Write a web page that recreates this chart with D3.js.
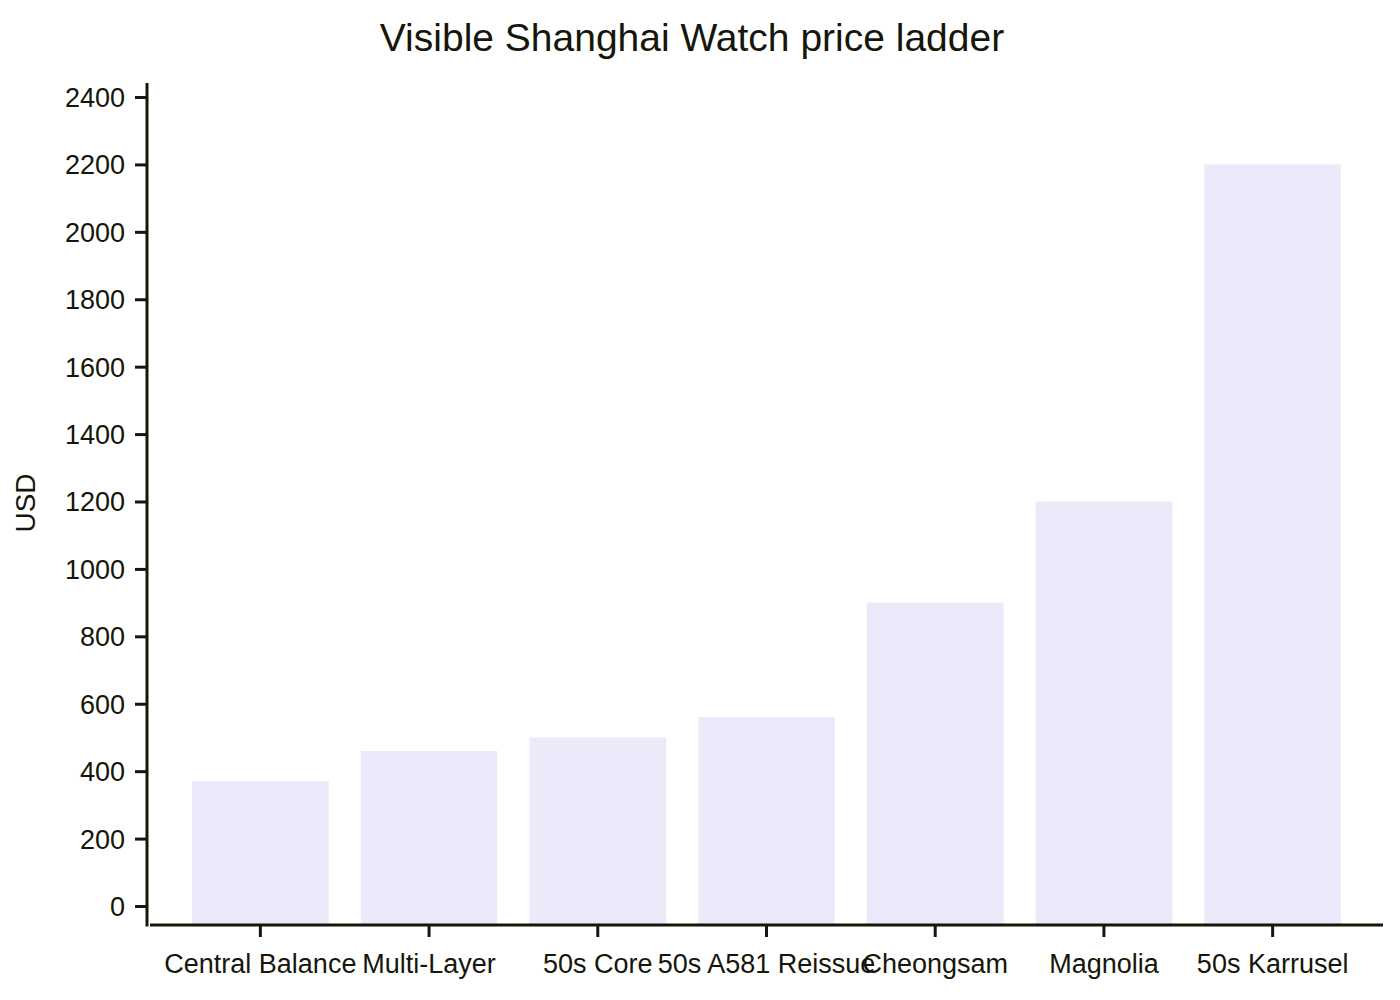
<!DOCTYPE html>
<html><head><meta charset="utf-8">
<script src="https://cdn.jsdelivr.net/npm/d3@7"></script>
<style>body{margin:0;background:#fff;} svg{display:block;font-family:"Liberation Sans",Arial,sans-serif;}</style>
</head><body>
<svg id="c" width="1400" height="1000"></svg>
<script>
const categories = ["Central Balance","Multi-Layer","50s Core","50s A581 Reissue","Cheongsam","Magnolia","50s Karrusel"];
const prices = [370, 460, 500, 560, 900, 1200, 2200];
const yTicks = [0,200,400,600,800,1000,1200,1400,1600,1800,2000,2200,2400];
const title = "Visible Shanghai Watch price ladder";
const yLabel = "USD";

const ink = "#16160a";
const svg = d3.select("#c");
const plotTop = 83, plotBottom = 925, axisX = 147;

const x = d3.scaleBand().domain(categories).range([176, 1357]).paddingInner(0.19).paddingOuter(0.095);
const y = d3.scaleLinear().domain([0, 2400]).range([906, 97]);

svg.append("g").selectAll("rect").data(prices).join("rect")
  .attr("x", (d,i) => x(categories[i]))
  .attr("width", x.bandwidth())
  .attr("y", d => y(d))
  .attr("height", d => plotBottom - y(d))
  .attr("fill", "#eaeafb");

// y axis
const ya = svg.append("g").attr("transform", `translate(${axisX},0)`)
  .call(d3.axisLeft(y).tickValues(yTicks).tickSize(12).tickPadding(10).tickFormat(d3.format("d")));
ya.select(".domain").remove();
ya.append("line").attr("x1",0).attr("x2",0).attr("y1",plotTop).attr("y2",plotBottom+1.5).attr("stroke",ink).attr("stroke-width",3);
ya.selectAll(".tick line").attr("stroke", ink).attr("stroke-width", 3);
ya.selectAll(".tick text").attr("fill", ink).style("font-size","27px").attr("dy","0.35em");

// x axis
const xa = svg.append("g").attr("transform", `translate(0,${plotBottom})`)
  .call(d3.axisBottom(x).tickSize(12).tickPadding(17));
xa.select(".domain").remove();
xa.append("line").attr("x1",150).attr("x2",1383).attr("y1",0).attr("y2",0).attr("stroke",ink).attr("stroke-width",3);
xa.selectAll(".tick line").attr("stroke", ink).attr("stroke-width", 3);
xa.selectAll(".tick text").attr("fill", ink).style("font-size","27px");

svg.append("text").attr("x", 692).attr("y", 51).attr("text-anchor","middle")
  .attr("fill", ink).style("font-size","39px").text(title);

svg.append("text").attr("transform","translate(35,503) rotate(-90)").attr("text-anchor","middle")
  .attr("fill", ink).style("font-size","28px").text(yLabel);
</script>
</body></html>
